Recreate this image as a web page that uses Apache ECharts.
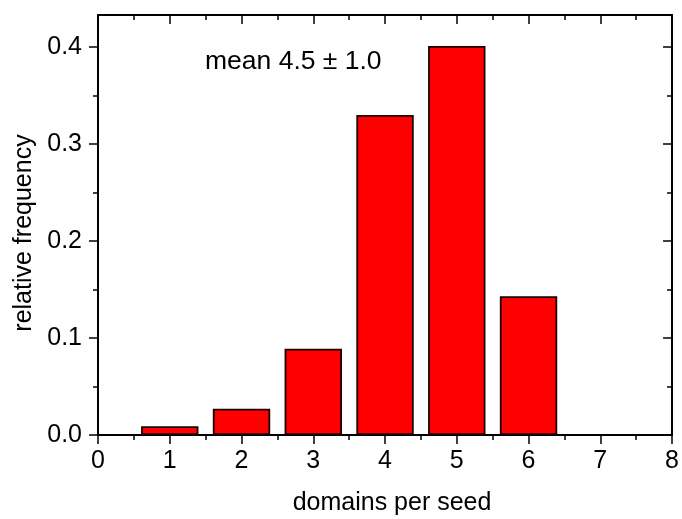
<!DOCTYPE html>
<html>
<head>
<meta charset="utf-8">
<script src="https://cdn.jsdelivr.net/npm/echarts@6/dist/echarts.min.js"></script>
<style>
  html, body { margin: 0; padding: 0; background: #fff; }
  #chart { width: 682px; height: 519px; }
</style>
</head>
<body>
<div id="chart"></div>
<script>
// Domains per seed histogram
const domainCounts = [1, 2, 3, 4, 5, 6];
const relFrequency = [0.009, 0.027, 0.089, 0.330, 0.401, 0.143];
const yMajorTicks = [0, 0.1, 0.2, 0.3, 0.4];
const yMinorTicks = [0.05, 0.15, 0.25, 0.35];
const xTitle = 'domains per seed';
const yTitle = 'relative frequency';
const note = 'mean 4.5 \u00b1 1.0';

const FONT = '"Liberation Sans", Arial, sans-serif';
const FS = 25;
const Y_MAX = 0.433;

const chart = echarts.init(document.getElementById('chart'), null, { renderer: 'canvas' });

const lineStyle = { color: '#000', width: 2 };

function yAxisDef(position, ticks, length, inside, withLine, withLabels) {
  return {
    type: 'value', position: position, min: 0, max: Y_MAX,
    axisLine: { show: withLine, onZero: false, lineStyle: lineStyle },
    axisTick: { show: true, customValues: ticks, inside: inside, length: length, lineStyle: { color: '#000', width: 1.5 } },
    axisLabel: withLabels ? {
      show: true, customValues: ticks, margin: 16,
      formatter: v => v.toFixed(1),
      color: '#000', fontSize: FS, fontFamily: FONT
    } : { show: false },
    splitLine: { show: false }
  };
}

function xAxisDef(position, inside, withLabels) {
  return {
    type: 'value', position: position, min: 0, max: 8, interval: 1,
    axisLine: { show: true, onZero: false, lineStyle: lineStyle },
    axisTick: { show: true, inside: inside, length: 9, lineStyle: { color: '#000', width: 1.5 } },
    minorTick: { show: true, splitNumber: 2, length: 5, lineStyle: { color: '#000', width: 1.5 } },
    axisLabel: withLabels ? { show: true, margin: 14, color: '#000', fontSize: FS, fontFamily: FONT } : { show: false },
    splitLine: { show: false },
    minorSplitLine: { show: false }
  };
}

chart.setOption({
  backgroundColor: '#fff',
  animation: false,
  grid: { left: 98, right: 9, top: 15, bottom: 84, containLabel: false },
  xAxis: [
    xAxisDef('bottom', false, true),
    xAxisDef('top', true, false)
  ],
  yAxis: [
    yAxisDef('left', yMajorTicks, 9, false, true, true),
    yAxisDef('left', yMinorTicks, 5, false, false, false),
    yAxisDef('right', yMajorTicks, 9, true, true, false),
    yAxisDef('right', yMinorTicks, 5, true, false, false)
  ],
  series: [{
    type: 'bar',
    xAxisIndex: 0,
    yAxisIndex: 0,
    barWidth: '80%',
    data: domainCounts.map((d, i) => [d, relFrequency[i]]),
    itemStyle: { color: '#ff0000', borderColor: '#1a0000', borderWidth: 1.8 }
  }],
  graphic: [
    {
      type: 'text', left: 205, top: 48,
      style: { text: note, fill: '#000', font: '26.5px ' + FONT }
    },
    {
      type: 'text', x: 392, y: 503,
      style: { text: xTitle, fill: '#000', font: FS + 'px ' + FONT, align: 'center', verticalAlign: 'middle' }
    },
    {
      type: 'text', x: 24, y: 233, rotation: Math.PI / 2,
      style: { text: yTitle, fill: '#000', font: FS + 'px ' + FONT, align: 'center', verticalAlign: 'middle' }
    }
  ]
});
</script>
</body>
</html>
